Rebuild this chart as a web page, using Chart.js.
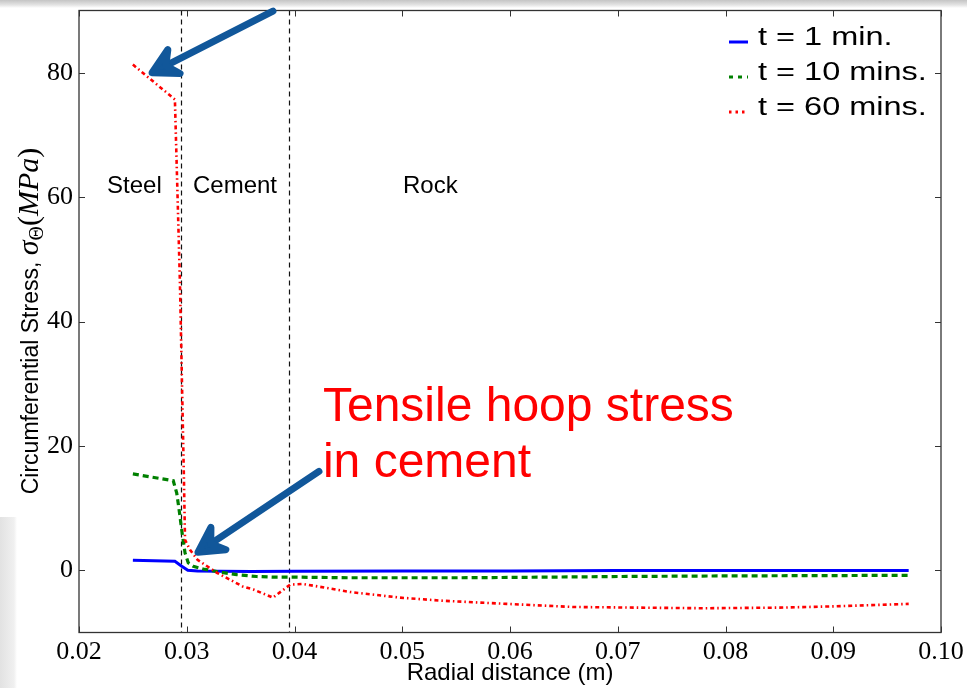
<!DOCTYPE html>
<html>
<head>
<meta charset="utf-8">
<script src="https://cdn.jsdelivr.net/npm/chart.js@4.4.1/dist/chart.umd.min.js"></script>
<style>
  html, body { margin: 0; padding: 0; }
  body {
    width: 967px; height: 688px; overflow: hidden;
    background:
      linear-gradient(to bottom, #c4c4c4 0px, #e4e4e4 5px, rgba(255,255,255,0) 8px) no-repeat,
      linear-gradient(to right, #e2e2e2 0px, #f0f0f0 14px, #ffffff 17px) 0 517px / 17px 171px no-repeat,
      #ffffff;
  }
  #wrap { position: relative; width: 967px; height: 688px; }
</style>
</head>
<body>
<div id="wrap"><canvas id="myChart" width="967" height="688"></canvas></div>
<script>
// hoop stress vs radius, three times after heating starts
const blueX = [0.025, 0.0289, 0.0295, 0.0301, 0.031, 0.033, 0.036, 0.040, 0.050, 0.060, 0.070, 0.080, 0.090, 0.097];
const blueY = [1.6, 1.45, 0.7, 0.0, -0.1, -0.15, -0.2, -0.15, -0.1, -0.1, -0.05, -0.05, -0.05, -0.05];

const greenX = [0.025, 0.02875, 0.02907, 0.02922, 0.02937, 0.02953, 0.02968, 0.02984, 0.03014, 0.03061, 0.03154, 0.03309, 0.03464, 0.03649, 0.038, 0.040, 0.045, 0.050, 0.055, 0.060, 0.070, 0.080, 0.090, 0.097];
const greenY = [15.5, 14.4, 12.4, 10.6, 8.7, 6.5, 4.7, 2.8, 1.2, 0.65, 0.2, -0.3, -0.7, -1.0, -1.1, -1.1, -1.2, -1.2, -1.2, -1.15, -1.0, -0.9, -0.85, -0.8];

const redX = [0.025, 0.0289, 0.02937, 0.02974, 0.02984, 0.0303, 0.0310, 0.0328, 0.0352, 0.0362, 0.0380, 0.0396, 0.0408, 0.0452, 0.0498, 0.0538, 0.0597, 0.0659, 0.0718, 0.078, 0.085, 0.090, 0.097];
const redY = [81.3, 75.7, 46.0, 14.6, 4.9, 3.3, 1.7, -0.4, -2.6, -3.1, -4.4, -2.3, -2.2, -3.5, -4.4, -4.9, -5.4, -5.9, -6.0, -6.1, -6.0, -5.8, -5.4];

const seriesNames = ['t = 1 min.', 't = 10 mins.', 't = 60 mins.'];
const xTicks = [0.02, 0.03, 0.04, 0.05, 0.06, 0.07, 0.08, 0.09, 0.10];
const yTicks = [0, 20, 40, 60, 80];
const boundaries = [0.0295, 0.0395];   // steel|cement, cement|rock

const zoneNames = ['Steel', 'Cement', 'Rock'];
const zoneX = [0.0226, 0.03058, 0.05007];
const zoneY = 60.7;

function pts(xs, ys) {
  return xs.map(function(x, i) { return {x: x, y: ys[i]}; });
}

const serif = '"Liberation Serif", "DejaVu Serif", serif';
const sans = '"Liberation Sans", Arial, sans-serif';

// frame, inward ticks, layer boundaries
const framePlugin = {
  id: 'frame',
  beforeDatasetsDraw(chart) {
    const ctx = chart.ctx, a = chart.chartArea, xs = chart.scales.x;
    ctx.save();
    ctx.strokeStyle = '#111';
    ctx.lineWidth = 1.2;
    ctx.setLineDash([5, 4]);
    for (let i = 0; i < boundaries.length; i++) {
      let px = Math.round(xs.getPixelForValue(boundaries[i])) + 0.5;
      ctx.beginPath();
      ctx.moveTo(px, a.top);
      ctx.lineTo(px, a.bottom);
      ctx.stroke();
    }
    ctx.restore();
  },
  afterDatasetsDraw(chart) {
    const ctx = chart.ctx, a = chart.chartArea;
    const xs = chart.scales.x, ys = chart.scales.y;
    ctx.save();
    ctx.strokeStyle = '#333';
    ctx.lineWidth = 1.3;
    ctx.strokeRect(a.left, a.top, a.right - a.left, a.bottom - a.top);
    ctx.lineWidth = 1;
    ctx.beginPath();
    for (let i = 0; i < xTicks.length; i++) {
      let px = Math.round(xs.getPixelForValue(xTicks[i])) + 0.5;
      ctx.moveTo(px, a.bottom); ctx.lineTo(px, a.bottom - 6);
      ctx.moveTo(px, a.top); ctx.lineTo(px, a.top + 6);
    }
    for (let i = 0; i < yTicks.length; i++) {
      let py = Math.round(ys.getPixelForValue(yTicks[i])) + 0.5;
      ctx.moveTo(a.left, py); ctx.lineTo(a.left + 6, py);
      ctx.moveTo(a.right, py); ctx.lineTo(a.right - 6, py);
    }
    ctx.stroke();
    ctx.restore();
  }
};

function arrow(ctx, x1, y1, x2, y2) {
  const ang = Math.atan2(y2 - y1, x2 - x1);
  const head = 28, spread = 0.5;
  ctx.save();
  ctx.strokeStyle = '#11579a';
  ctx.fillStyle = '#11579a';
  ctx.lineWidth = 7;
  ctx.lineCap = 'round';
  ctx.lineJoin = 'round';
  ctx.beginPath();
  ctx.moveTo(x1, y1);
  ctx.lineTo(x2 - Math.cos(ang) * 8, y2 - Math.sin(ang) * 8);
  ctx.stroke();
  const bx1 = x2 - head * Math.cos(ang - spread), by1 = y2 - head * Math.sin(ang - spread);
  const bx2 = x2 - head * Math.cos(ang + spread), by2 = y2 - head * Math.sin(ang + spread);
  const mx = x2 - head * 0.55 * Math.cos(ang), my = y2 - head * 0.55 * Math.sin(ang);
  ctx.beginPath();
  ctx.moveTo(x2, y2);
  ctx.lineTo(bx1, by1);
  ctx.lineTo(mx, my);
  ctx.lineTo(bx2, by2);
  ctx.closePath();
  ctx.fill();
  ctx.stroke();
  ctx.restore();
}

// zone labels, annotation text, arrows, legend, y title
const notesPlugin = {
  id: 'notes',
  afterDraw(chart) {
    const ctx = chart.ctx, a = chart.chartArea;
    const xs = chart.scales.x, ys = chart.scales.y;
    const X = function(v) { return xs.getPixelForValue(v); };
    const Y = function(v) { return ys.getPixelForValue(v); };
    ctx.save();

    ctx.fillStyle = '#000';
    ctx.font = '24px ' + sans;
    ctx.textBaseline = 'alphabetic';
    ctx.textAlign = 'left';
    for (let i = 0; i < zoneNames.length; i++) {
      ctx.fillText(zoneNames[i], X(zoneX[i]), Y(zoneY));
    }

    ctx.fillStyle = '#ff0000';
    ctx.font = '48px ' + sans;
    ctx.fillText('Tensile hoop stress', X(0.04264), Y(24.0));
    ctx.fillText('in cement', X(0.04264), Y(15.0));

    arrow(ctx, X(0.0380), Y(89.9), X(0.02678), Y(80.0));
    arrow(ctx, X(0.04227), Y(15.9), X(0.03104), Y(2.9));

    // legend
    const ds = chart.data.datasets;
    const lx = a.right - 212, ly = [42, 77, 112];
    for (let i = 0; i < ds.length; i++) {
      ctx.save();
      ctx.strokeStyle = ds[i].borderColor;
      ctx.lineWidth = 3;
      ctx.setLineDash(i === 0 ? [] : (i === 1 ? [4, 5] : [2.5, 4]));
      ctx.beginPath();
      ctx.moveTo(lx, ly[i]);
      ctx.lineTo(lx + 19, ly[i]);
      ctx.stroke();
      ctx.restore();
      ctx.save();
      ctx.fillStyle = '#000';
      ctx.font = '25px ' + sans;
      ctx.translate(lx + 29, ly[i] + 3);
      ctx.scale(1.3, 1);
      ctx.textBaseline = 'alphabetic';
      ctx.fillText(seriesNames[i], 0, 0);
      ctx.restore();
    }

    // rotated y title with math part
    const parts = [
      {t: 'Circumferential Stress, ', f: '23px ' + sans, dy: 0},
      {t: '\u03c3', f: 'italic 30px ' + serif, dy: 0},
      {t: '\u0398', f: '20px ' + serif, dy: 5},
      {t: '(', f: '30px ' + serif, dy: 0},
      {t: 'MPa', f: 'italic 30px ' + serif, dy: 0},
      {t: ')', f: '30px ' + serif, dy: 0}
    ];
    let total = 0;
    for (const p of parts) { ctx.font = p.f; p.w = ctx.measureText(p.t).width; total += p.w; }
    ctx.translate(30, 321);
    ctx.rotate(-Math.PI / 2);
    ctx.fillStyle = '#000';
    let u = -total / 2;
    for (const p of parts) {
      ctx.font = p.f;
      ctx.fillText(p.t, u, 8 + p.dy);
      u += p.w;
    }
    ctx.restore();
  }
};

const config = {
  type: 'line',
  data: {
    datasets: [
      {label: seriesNames[0], data: pts(blueX, blueY), borderColor: '#0000ff', borderWidth: 3, order: 3},
      {label: seriesNames[1], data: pts(greenX, greenY), borderColor: '#008000', borderWidth: 3.2, borderDash: [6, 4], order: 2},
      {label: seriesNames[2], data: pts(redX, redY), borderColor: '#ff0000', borderWidth: 2.6, borderDash: [4, 3, 1.5, 3], order: 1}
    ]
  },
  options: {
    responsive: false,
    animation: false,
    events: [],
    layout: {padding: {left: 0, right: 26, top: 10.5, bottom: 0}},
    elements: {point: {radius: 0}, line: {tension: 0, fill: false}},
    plugins: {legend: {display: false}, tooltip: {enabled: false}},
    scales: {
      x: {
        type: 'linear', min: 0.02, max: 0.10,
        grid: {display: false, drawTicks: false},
        border: {display: false},
        afterBuildTicks(s) { s.ticks = xTicks.map(function(v) { return {value: v}; }); },
        afterFit(s) { s.height = 55.5; s.paddingLeft = 0; s.paddingRight = 0; },
        ticks: {
          padding: 4, color: '#000', font: {family: serif, size: 26},
          maxRotation: 0, autoSkip: false,
          callback: function(v) { return v.toFixed(2); }
        },
        title: {display: true, text: 'Radial distance (m)', color: '#000', font: {family: sans, size: 24}, padding: {top: 0, bottom: 0}}
      },
      y: {
        type: 'linear', min: -10, max: 90,
        grid: {display: false, drawTicks: false},
        border: {display: false},
        afterBuildTicks(s) { s.ticks = yTicks.map(function(v) { return {value: v}; }); },
        afterFit(s) { s.width = 79; s.paddingTop = 0; s.paddingBottom = 0; },
        ticks: {
          padding: 6, color: '#000', font: {family: serif, size: 26},
          callback: function(v) { return String(v); }
        }
      }
    }
  },
  plugins: [framePlugin, notesPlugin]
};

const myChart = new Chart(document.getElementById('myChart'), config);
</script>
</body>
</html>
